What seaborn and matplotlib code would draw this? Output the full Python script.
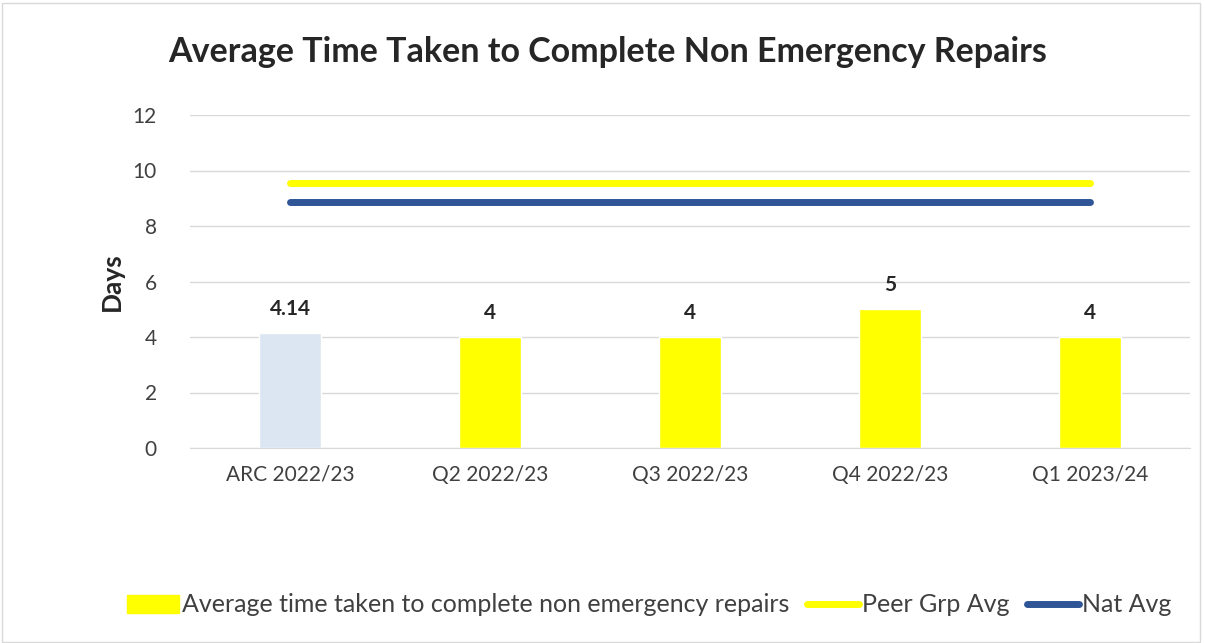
import seaborn as sns
import matplotlib.pyplot as plt
import pandas as pd
from matplotlib.patches import Rectangle
from matplotlib.lines import Line2D

periods = ["ARC 2022/23", "Q2 2022/23", "Q3 2022/23", "Q4 2022/23", "Q1 2023/24"]
avgDays = [4.14, 4, 4, 5, 4]
dayLabels = ["4.14", "4", "4", "5", "4"]
peerAvg = [9.55, 9.55, 9.55, 9.55, 9.55]
natAvg = [8.86, 8.86, 8.86, 8.86, 8.86]
barColors = ["#dce6f2", "#ffff00", "#ffff00", "#ffff00", "#ffff00"]

sns.set_style("white")
plt.rcParams['font.family'] = ['Lato', 'DejaVu Sans']

df = pd.DataFrame({"period": periods, "days": avgDays, "peer": peerAvg, "nat": natAvg})

fig = plt.figure(figsize=(12.05, 6.43), dpi=100)
ax = fig.add_axes([190 / 1205, 1 - 448 / 643, 1000 / 1205, 333 / 643])

sns.barplot(data=df, x="period", y="days", hue="period", palette=barColors,
            width=0.31, legend=False, ax=ax, saturation=1)
sns.lineplot(data=df, x="period", y="peer", color="#ffff00", linewidth=5, ax=ax, sort=False)
sns.lineplot(data=df, x="period", y="nat", color="#2f5597", linewidth=5, ax=ax, sort=False)
for ln in ax.lines:
    ln.set_solid_capstyle("round")

for i, (v, lab) in enumerate(zip(avgDays, dayLabels)):
    ax.text(i, v + 0.5, lab, ha="center", va="bottom", fontsize=15, fontweight="bold", color="#262626")

ax.set_xlim(-0.5, 4.5)
ax.set_ylim(0, 12)
ax.set_yticks(range(0, 13, 2))
ax.yaxis.grid(True, color="#d9d9d9", linewidth=1)
ax.set_axisbelow(True)
for s in ["top", "right", "left"]:
    ax.spines[s].set_visible(False)
ax.spines["bottom"].set_color("#d9d9d9")
ax.tick_params(axis="both", length=0, labelsize=15, colors="#404040", pad=12)
ax.tick_params(axis="y", pad=24)
ax.set_xlabel("")
ax.set_ylabel("Days", fontsize=19, fontweight="bold", color="#262626", labelpad=6)

fig.text(608 / 1205, 1 - 52 / 643, "Average Time Taken to Complete Non Emergency Repairs",
         ha="center", va="center", fontsize=24.5, fontweight="bold", color="#262626")

handles = [Rectangle((0, 0), 1, 1, color="#ffff00"),
           Line2D([0], [0], color="#ffff00", linewidth=5, solid_capstyle="round"),
           Line2D([0], [0], color="#2f5597", linewidth=5, solid_capstyle="round")]
labels = ["Average time taken to complete non emergency repairs", "Peer Grp Avg", "Nat Avg"]
fig.legend(handles, labels, loc="center", bbox_to_anchor=(649 / 1205, 1 - 605 / 643), ncol=3,
           frameon=False, fontsize=18, handlelength=2.1, handleheight=0.7, handletextpad=0.1,
           columnspacing=0.7, labelcolor="#404040")

fig.add_artist(Rectangle((0.002, 0.002), 0.994, 0.994, transform=fig.transFigure,
                         fill=False, edgecolor="#d9d9d9", linewidth=1))

fig.savefig("out.png", dpi=100)
